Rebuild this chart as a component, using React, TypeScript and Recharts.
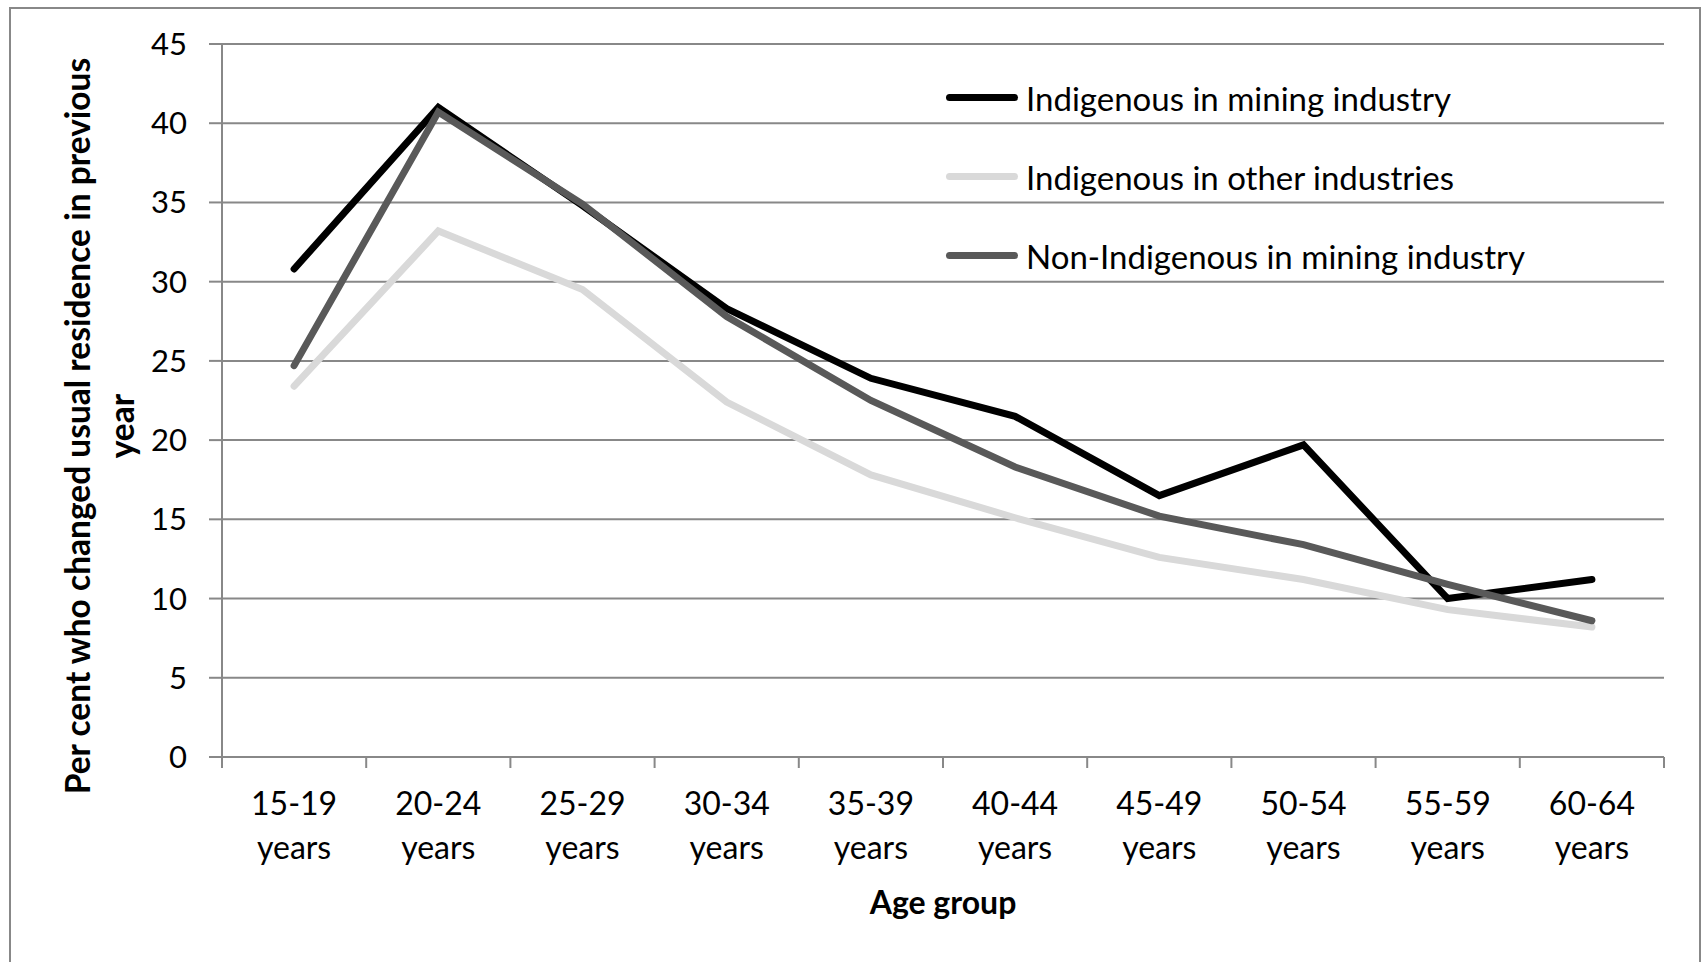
import React from "react";
import { LineChart, Line, XAxis, YAxis, CartesianGrid, Legend, Label } from "recharts";

const ageGroups = [
  "15-19 years",
  "20-24 years",
  "25-29 years",
  "30-34 years",
  "35-39 years",
  "40-44 years",
  "45-49 years",
  "50-54 years",
  "55-59 years",
  "60-64 years",
];
const indigenousMining = [30.8, 41.0, 34.8, 28.3, 23.9, 21.5, 16.5, 19.7, 10.0, 11.2];
const indigenousOther = [23.4, 33.2, 29.5, 22.4, 17.8, 15.1, 12.6, 11.2, 9.3, 8.2];
const nonIndigenousMining = [24.7, 40.7, 34.9, 27.8, 22.5, 18.3, 15.2, 13.4, 10.9, 8.6];
const yTicks = [0, 5, 10, 15, 20, 25, 30, 35, 40, 45];

const data = ageGroups.map((age, i) => ({
  age,
  indMining: indigenousMining[i],
  indOther: indigenousOther[i],
  nonIndMining: nonIndigenousMining[i],
}));

const FONT = "Lato, Carlito, Calibri, sans-serif";
const GRID = "#888888";

// category label in two lines, plus Excel-style tick marks on the band edges
function AgeTick({ x, y, payload, index, visibleTicksCount }: any) {
  const [range, unit] = String(payload.value).split(" ");
  const half = payload.offset || 0;
  const isLast = index === visibleTicksCount - 1;
  return (
    <g>
      {half > 0 && <line x1={x - half} x2={x - half} y1={y} y2={y + 11} stroke={GRID} strokeWidth={2} />}
      {half > 0 && isLast && <line x1={x + half} x2={x + half} y1={y} y2={y + 11} stroke={GRID} strokeWidth={2} />}
      <text x={x} y={y} textAnchor="middle" fontSize={32} fill="#000" fontFamily={FONT}>
        <tspan x={x} dy={58}>{range}</tspan>
        <tspan x={x} dy={44}>{unit}</tspan>
      </text>
    </g>
  );
}

function YTitle() {
  return (
    <text
      transform="translate(90,426) rotate(-90)"
      textAnchor="middle"
      fontSize={33.5}
      fontWeight="bold"
      fill="#000"
      fontFamily={FONT}
    >
      <tspan x={0} dy={0}>Per cent who changed  usual residence in previous</tspan>
      <tspan x={0} dy={44}>year</tspan>
    </text>
  );
}

function XTitle({ viewBox }: any) {
  const cx = viewBox.x + viewBox.width / 2;
  return (
    <text x={cx} y={914} textAnchor="middle" fontSize={32} fontWeight="bold" fill="#000" fontFamily={FONT}>
      Age group
    </text>
  );
}

function LegendBox({ payload }: any) {
  return (
    <div style={{ fontFamily: FONT, fontSize: 33, color: "#000" }}>
      {payload.map((p: any) => (
        <div key={p.value} style={{ height: 79, display: "flex", alignItems: "center", whiteSpace: "nowrap" }}>
          <div style={{ width: 72, height: 7, borderRadius: 4, background: p.color, marginRight: 8 }} />
          <span>{p.value}</span>
        </div>
      ))}
    </div>
  );
}

export default function App() {
  return (
    <div
      style={{
        position: "fixed",
        left: 0,
        top: 0,
        width: 1702,
        height: 962,
        overflow: "hidden",
        background: "#fff",
      }}
    >
      <div
        style={{
          position: "absolute",
          left: 9,
          top: 7,
          width: 1688,
          height: 1000,
          border: `2px solid ${GRID}`,
        }}
      />
      <div style={{ position: "absolute", left: 0, top: 0 }}>
        <LineChart width={1702} height={962} data={data} margin={{ top: 44, right: 38, bottom: 55, left: 0 }}>
          <CartesianGrid horizontal vertical={false} stroke={GRID} strokeWidth={2} />
          <XAxis
            dataKey="age"
            scale="band"
            interval={0}
            height={150}
            axisLine={{ stroke: GRID, strokeWidth: 2 }}
            tickLine={false}
            tickSize={0}
            tickMargin={0}
            tick={<AgeTick />}
          >
            <Label content={<XTitle />} />
          </XAxis>
          <YAxis
            domain={[0, 45]}
            ticks={yTicks}
            interval={0}
            width={222}
            tickSize={13}
            tickMargin={22}
            axisLine={{ stroke: GRID, strokeWidth: 2 }}
            tickLine={{ stroke: GRID, strokeWidth: 2 }}
            tick={{ fontSize: 31, fill: "#000", fontFamily: FONT }}
          >
            <Label content={<YTitle />} />
          </YAxis>
          <Legend
            layout="vertical"
            align="center"
            verticalAlign="middle"
            content={<LegendBox />}
            wrapperStyle={{ left: 946, top: 58, width: "auto" }}
          />
          <Line
            name="Indigenous in mining industry"
            dataKey="indMining"
            stroke="#000000"
            strokeWidth={7}
            strokeLinecap="round"
            dot={false}
            activeDot={false}
            isAnimationActive={false}
          />
          <Line
            name="Indigenous in other industries"
            dataKey="indOther"
            stroke="#d9d9d9"
            strokeWidth={7}
            strokeLinecap="round"
            dot={false}
            activeDot={false}
            isAnimationActive={false}
          />
          <Line
            name="Non-Indigenous in mining industry"
            dataKey="nonIndMining"
            stroke="#595959"
            strokeWidth={7}
            strokeLinecap="round"
            dot={false}
            activeDot={false}
            isAnimationActive={false}
          />
        </LineChart>
      </div>
    </div>
  );
}
